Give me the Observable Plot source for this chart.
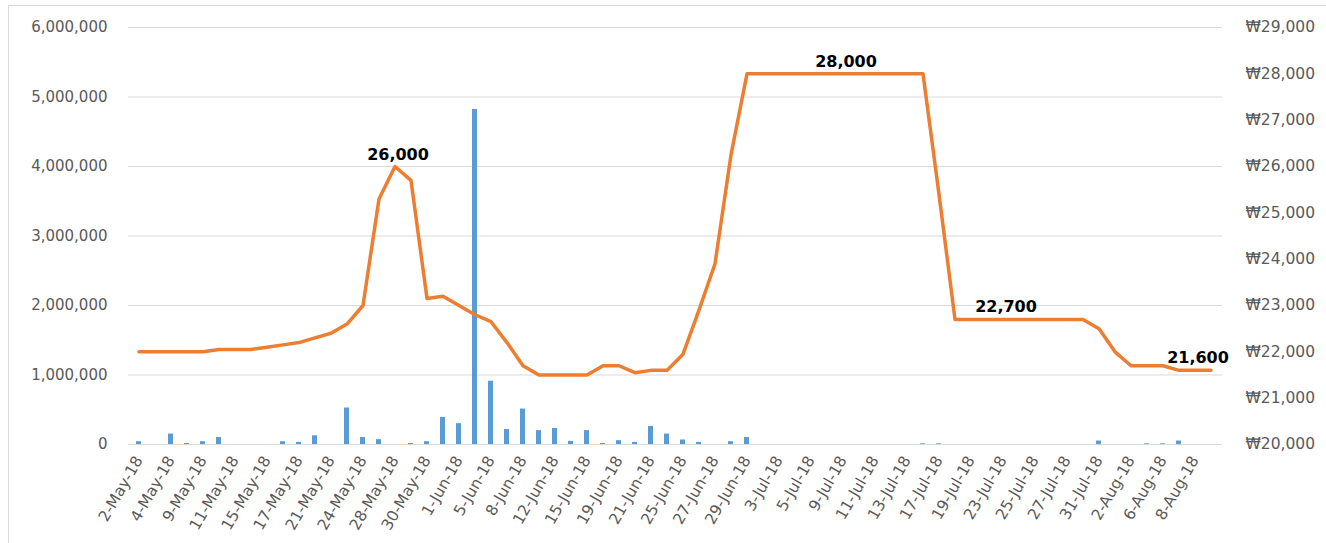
<!DOCTYPE html>
<html>
<head>
<meta charset="utf-8">
<script src="https://cdn.jsdelivr.net/npm/d3@7"></script>
<script src="https://cdn.jsdelivr.net/npm/@observablehq/plot@0.6"></script>
<style>
  html, body { margin: 0; padding: 0; background: #fff; }
  #wrap { position: relative; width: 1326px; height: 543px; overflow: hidden; }
  #border { position: absolute; left: 8px; top: 5px; width: 1330px; height: 560px; border-left: 1px solid #d9d9d9; border-top: 1px solid #d9d9d9; pointer-events: none; }
  svg { display: block; }
</style>
</head>
<body>
<div id="wrap"><div id="border"></div></div>
<script>
const dates = [
  "2-May-18","3-May-18","4-May-18","8-May-18","9-May-18","10-May-18","11-May-18","14-May-18",
  "15-May-18","16-May-18","17-May-18","18-May-18","21-May-18","23-May-18","24-May-18","25-May-18",
  "28-May-18","29-May-18","30-May-18","31-May-18","1-Jun-18","4-Jun-18","5-Jun-18","7-Jun-18",
  "8-Jun-18","11-Jun-18","12-Jun-18","14-Jun-18","15-Jun-18","18-Jun-18","19-Jun-18","20-Jun-18",
  "21-Jun-18","22-Jun-18","25-Jun-18","26-Jun-18","27-Jun-18","28-Jun-18","29-Jun-18","2-Jul-18",
  "3-Jul-18","4-Jul-18","5-Jul-18","6-Jul-18","9-Jul-18","10-Jul-18","11-Jul-18","12-Jul-18",
  "13-Jul-18","16-Jul-18","17-Jul-18","18-Jul-18","19-Jul-18","20-Jul-18","23-Jul-18","24-Jul-18",
  "25-Jul-18","26-Jul-18","27-Jul-18","30-Jul-18","31-Jul-18","1-Aug-18","2-Aug-18","3-Aug-18",
  "6-Aug-18","7-Aug-18","8-Aug-18","9-Aug-18"
];
const volumes = [
  40000,0,150000,15000,40000,100000,0,0,
  0,40000,30000,125000,0,525000,100000,70000,
  0,15000,40000,390000,300000,4820000,910000,215000,
  510000,200000,230000,45000,200000,15000,55000,30000,
  260000,150000,65000,30000,0,40000,100000,0,
  0,0,0,0,0,0,0,0,
  0,10000,10000,0,0,0,0,0,
  0,0,0,0,50000,0,0,10000,
  10000,50000,0,0
];
const prices = [
  22000,22000,22000,22000,22000,22050,22050,22050,
  22100,22150,22200,22300,22400,22600,23000,25300,
  26000,25700,23150,23200,23000,22800,22650,22200,
  21700,21500,21500,21500,21500,21700,21700,21550,
  21600,21600,21950,22900,23900,26250,28000,28000,
  28000,28000,28000,28000,28000,28000,28000,28000,
  28000,28000,25400,22700,22700,22700,22700,22700,
  22700,22700,22700,22700,22500,22000,21700,21700,
  21700,21600,21600,21600
];
const labeledIdx = [16, 44, 54, 66];
const volTicks = [0,1000000,2000000,3000000,4000000,5000000,6000000];
const priceTicks = [20000,21000,22000,23000,24000,25000,26000,27000,28000,29000];

const pMin = 20000, pMax = 29000, vMax = 6000000;
const toV = p => (p - pMin) / (pMax - pMin) * vMax;
const fromV = v => Math.round(pMin + v / vMax * (pMax - pMin));

const rows = dates.map((d, i) => ({date: d, vol: volumes[i], price: prices[i], i}));
const labelRows = rows.filter(r => labeledIdx.includes(r.i));
const xTicks = dates.filter((d, i) => i % 2 === 0);
const fmt = d3.format(",");

const chart = Plot.plot({
  width: 1326,
  height: 543,
  marginLeft: 128,
  marginRight: 104,
  marginTop: 27,
  marginBottom: 99,
  style: {fontFamily: "DejaVu Sans", background: "transparent", overflow: "visible"},
  x: {type: "band", domain: dates, paddingInner: 0.68, paddingOuter: 0.34, label: null},
  y: {domain: [0, vMax], label: null},
  marks: [
    Plot.gridY(volTicks, {stroke: "#d9d9d9", strokeOpacity: 1, strokeWidth: 1}),
    Plot.axisY({ticks: volTicks, tickSize: 0, tickPadding: 21, tickFormat: fmt, fontSize: 15, color: "#595959", label: null}),
    Plot.axisY({anchor: "right", ticks: priceTicks.map(toV), tickSize: 0, tickPadding: 23, textAnchor: "start",
      tickFormat: v => "₩" + fmt(fromV(v)), fontSize: 15.5, color: "#595959", label: null}),
    Plot.axisX({ticks: xTicks, tickSize: 0, tickPadding: 13, tickRotate: -60, fontSize: 15.5, color: "#595959", label: null}),
    Plot.barY(rows, {x: "date", y: "vol", fill: "#5b9bd5"}),
    Plot.line(rows, {x: "date", y: d => toV(d.price), stroke: "#ed7d31", strokeWidth: 3.5, strokeLinejoin: "round"}),
    Plot.text(labelRows, {x: "date", y: d => toV(d.price), text: d => fmt(d.price), fontSize: 16, fontWeight: "bold",
      fill: "#000", lineAnchor: "bottom", dy: -7, dx: 3})
  ]
});
document.getElementById("wrap").prepend(chart);
</script>
</body>
</html>
